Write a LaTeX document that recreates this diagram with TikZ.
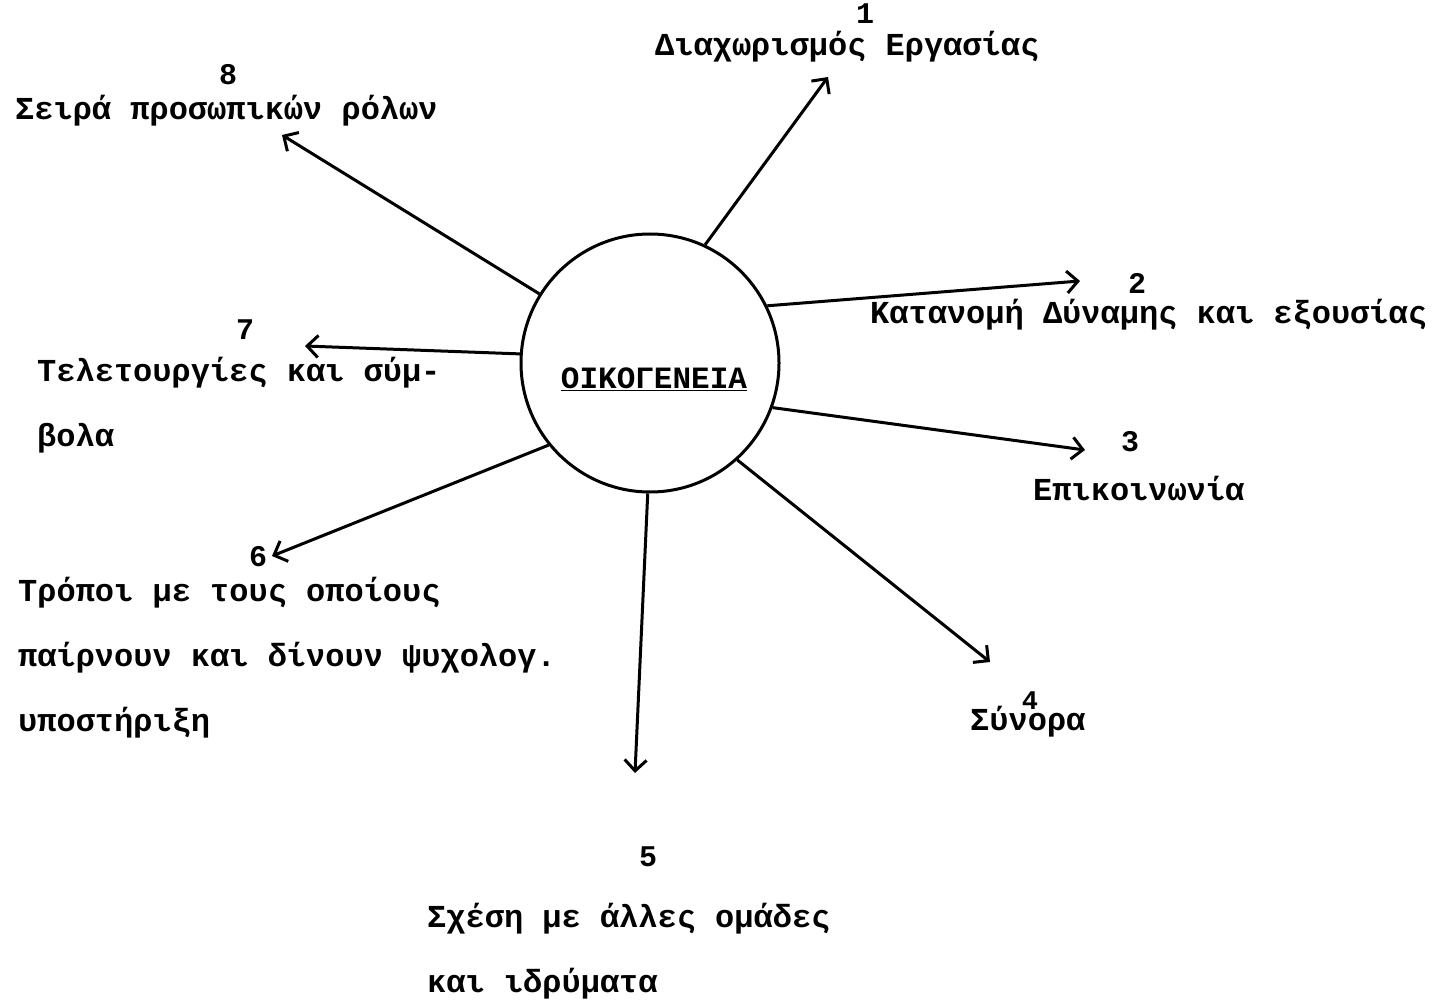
\documentclass[tikz,border=0pt]{standalone}
\usepackage{fontspec}
\setmainfont{Liberation Mono}
\usetikzlibrary{arrows.meta}
\begin{document}
\begin{tikzpicture}[x=1pt,y=-1pt,
  lbl/.style={anchor=base west,inner sep=0pt,align=left,font=\fontsize{32}{65}\selectfont\bfseries},
  num/.style={inner sep=0pt,font=\fontsize{30}{30}\selectfont\bfseries},
  arr/.style={line width=3pt,-{Straight Barb[length=11pt,width=22pt,line width=3pt]}}]
\useasboundingbox[fill=white] (0,0) rectangle (1445,1000);

% central circle
\node[circle,draw,line width=3pt,minimum size=258pt,inner sep=0pt] (fam) at (650,363) {};
\node[inner sep=0pt,anchor=base,font=\fontsize{31}{31}\selectfont\bfseries] (famtxt) at (654,388) {\underline{ΟΙΚΟΓΕΝΕΙΑ}};

% arrow end points
\coordinate (e1) at (828,77);
\coordinate (e2) at (1080,281);
\coordinate (e3) at (1085,450);
\coordinate (e4) at (990,662);
\coordinate (e5) at (635,773);
\coordinate (e6) at (272,556);
\coordinate (e7) at (305,346);
\coordinate (e8) at (282,135);

% connectors
\draw[arr] (fam.65) -- (e1);
\draw[arr] (fam.26) -- (e2);
\draw[arr] (fam.-20) -- (e3);
\draw[arr] (fam.-48) -- (e4);
\draw[arr] (fam.269) -- (e5);
\draw[arr] (fam.219) -- (e6);
\draw[arr] (fam.176) -- (e7);
\draw[arr] (fam.148) -- (e8);

% numbers
\node[num] (n1) at (865,14) {1};
\node[num] (n2) at (1137,283) {2};
\node[num] (n3) at (1130,442) {3};
\node[num,font=\fontsize{27}{27}\selectfont\bfseries] (n4) at (1030,701) {4};
\node[num] (n5) at (648,857) {5};
\node[num] (n6) at (258,557) {6};
\node[num] (n7) at (245,330) {7};
\node[num] (n8) at (228,75) {8};

% labels (multi-line labels are placed by the baseline of their last line)
\node[lbl] (l1) at (655,56) {Διαχωρισμός Εργασίας};
\node[lbl] (l2) at (870,323) {Κατανομή Δύναμης και εξουσίας};
\node[lbl] (l3) at (1033,500) {Επικοινωνία};
\node[lbl] (l4) at (970,730) {Σύνορα};
\node[lbl] (l5) at (427,992) {Σχέση με άλλες ομάδες\\και ιδρύματα};
\node[lbl] (l6) at (18,731) {Τρόποι με τους οποίους\\παίρνουν και δίνουν ψυχολογ.\\υποστήριξη};
\node[lbl] (l7) at (37,446) {Τελετουργίες και σύμ-\\βολα};
\node[lbl] (l8) at (15,120) {Σειρά προσωπικών ρόλων};
\end{tikzpicture}
\end{document}
